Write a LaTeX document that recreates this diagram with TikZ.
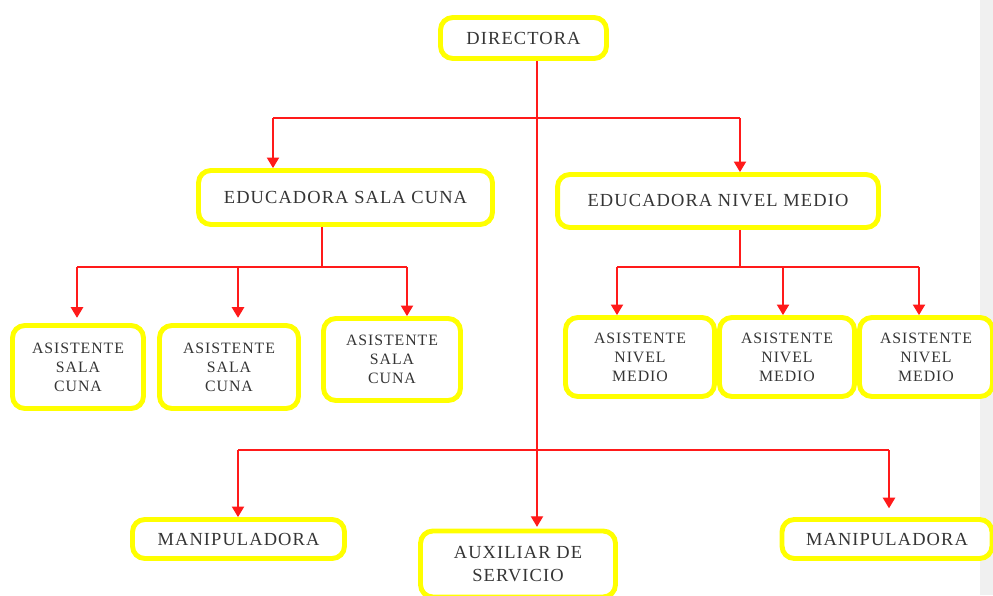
\documentclass[tikz,border=0pt]{standalone}
\usepackage{fontspec}
\usepackage{xcolor}
\usepackage{tikz}
\usetikzlibrary{arrows.meta}
\newfontfamily\orgfont[LetterSpace=6]{Liberation Serif}
\definecolor{boxyellow}{HTML}{FFFF00}
\definecolor{linered}{HTML}{FF1A1A}
\definecolor{txtgray}{HTML}{353535}
\definecolor{edgegray}{HTML}{F0F0F0}

\begin{document}
\begin{tikzpicture}[x=0.02cm,y=-0.02cm,
    box/.style={draw=boxyellow,line width=2.8pt,rounded corners=7pt,fill=white,
      text=txtgray,align=center,inner sep=0pt,font=\orgfont\fontsize{10.5}{13}\selectfont},
    small/.style={box,font=\orgfont\fontsize{9}{10.8}\selectfont},
    conn/.style={draw=linered,line width=0.8pt},
    arr/.style={conn,-{Triangle[width=7pt,length=6pt]}}]
  \useasboundingbox (0,0) rectangle (993,595);
  \clip (0,0) rectangle (993,595);
  \fill[edgegray] (980,0) rectangle (993,595);

  % boxes
  \node[box,minimum width=3.32cm,minimum height=0.82cm] (dir) at (523.5,38) {DIRECTORA};
  \node[box,minimum width=5.88cm,minimum height=1.08cm] (ecuna) at (345.5,197.5) {EDUCADORA SALA CUNA};
  \node[box,minimum width=6.42cm,minimum height=1.06cm] (emedio) at (718,201) {EDUCADORA NIVEL MEDIO};

  \node[small,minimum width=2.62cm,minimum height=1.66cm] (asc1) at (78,367) {ASISTENTE\\SALA\\CUNA};
  \node[small,minimum width=2.78cm,minimum height=1.66cm] (asc2) at (229,367) {ASISTENTE\\SALA\\CUNA};
  \node[small,minimum width=2.74cm,minimum height=1.64cm] (asc3) at (392,359.5) {ASISTENTE\\SALA\\CUNA};

  \node[small,minimum width=2.98cm,minimum height=1.58cm] (anm1) at (640,357) {ASISTENTE\\NIVEL\\MEDIO};
  \node[small,minimum width=2.70cm,minimum height=1.58cm] (anm2) at (787,357) {ASISTENTE\\NIVEL\\MEDIO};
  \node[small,minimum width=2.66cm,minimum height=1.58cm] (anm3) at (926,357) {ASISTENTE\\NIVEL\\MEDIO};

  \node[box,minimum width=4.24cm,minimum height=0.78cm] (man1) at (238.5,539) {MANIPULADORA};
  \node[box,minimum width=3.90cm,minimum height=1.32cm] (aux) at (518,564) {AUXILIAR DE\\SERVICIO};
  \node[box,minimum width=4.20cm,minimum height=0.78cm] (man2) at (887,539) {MANIPULADORA};

  % connectors
  \coordinate (spine) at (537,61);
  \coordinate (b1l) at (273,118);
  \coordinate (b1r) at (740,118);
  \coordinate (b2m) at (322,267);
  \coordinate (b3m) at (740,267);
  \coordinate (b4l) at (238,450);
  \coordinate (b4r) at (889,450);

  \draw[arr,shorten >=1pt] (dir.south -| spine) -- (aux.north -| spine);

  \draw[conn] (b1l) -- (b1r);
  \draw[arr] (b1l) -- (b1l |- ecuna.north);
  \draw[arr] (b1r) -- (b1r |- emedio.north);

  \draw[conn] (ecuna.south -| b2m) -- (b2m);
  \draw[conn] (77,267) -- (407,267);
  \draw[arr,shorten >=3pt] (77,267) -- (77,267 |- asc1.north);
  \draw[arr,shorten >=3pt] (238,267) -- (238,267 |- asc2.north);
  \draw[arr] (407,267) -- (407,267 |- asc3.north);

  \draw[conn] (emedio.south -| b3m) -- (b3m);
  \draw[conn] (617,267) -- (919,267);
  \foreach \x/\n in {617/anm1,783/anm2,919/anm3}
    \draw[arr] (\x,267) -- (\x,267 |- \n.north);

  \draw[conn] (b4l) -- (b4r);
  \draw[arr] (b4l) -- (b4l |- man1.north);
  \draw[arr,shorten >=5pt] (b4r) -- (b4r |- man2.north);
\end{tikzpicture}
\end{document}
